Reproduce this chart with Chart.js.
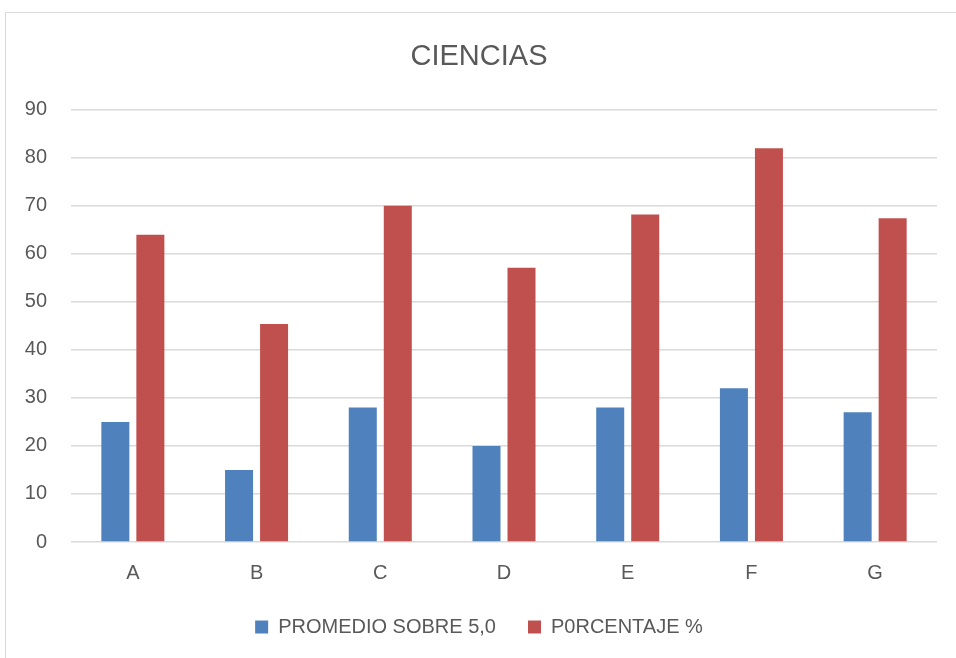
<!DOCTYPE html>
<html>
<head>
<meta charset="utf-8">
<script src="https://cdn.jsdelivr.net/npm/chart.js@4/dist/chart.umd.min.js"></script>
<style>
  html, body { margin: 0; padding: 0; background: #fff; }
  #wrap { position: relative; width: 956px; height: 658px; overflow: hidden; }
  #frame { position: absolute; left: 5px; top: 12px; width: 1000px; height: 700px;
           border-left: 1.5px solid #d9d9d9; border-top: 1.5px solid #d9d9d9; }
  canvas { position: absolute; left: 0; top: 0; }
</style>
</head>
<body>
<div id="wrap">
  <div id="frame"></div>
  <canvas id="chart" width="956" height="658"></canvas>
</div>
<script>
// categories and values
var categories = ['A', 'B', 'C', 'D', 'E', 'F', 'G'];
var promedio = [25, 15, 28, 20, 28, 32, 27];
var porcentaje = [64, 45.4, 70, 57.1, 68.2, 82, 67.4];
var yTicks = [0, 10, 20, 30, 40, 50, 60, 70, 80, 90];

var textColor = '#595959';
var gridColor = '#d9d9d9';
var font = 'Liberation Sans, Arial, sans-serif';

var ctx = document.getElementById('chart').getContext('2d');
var chartObj = new Chart(ctx, {
  type: 'bar',
  data: {
    labels: categories,
    datasets: [
      {
        label: 'PROMEDIO SOBRE 5,0',
        data: promedio,
        backgroundColor: '#4f81bd',
        categoryPercentage: 0.566,
        barPercentage: 0.8
      },
      {
        label: 'P0RCENTAJE %',
        data: porcentaje,
        backgroundColor: '#c0504d',
        categoryPercentage: 0.566,
        barPercentage: 0.8
      }
    ]
  },
  options: {
    responsive: false,
    animation: false,
    layout: { padding: { left: 21, right: 19, top: 0, bottom: 11 } },
    plugins: {
      title: {
        display: true,
        text: 'CIENCIAS',
        color: textColor,
        font: { family: font, size: 29, weight: 'normal' },
        padding: { top: 40, bottom: 35 }
      },
      legend: {
        position: 'bottom',
        labels: {
          color: textColor,
          font: { family: font, size: 20 },
          boxWidth: 13,
          boxHeight: 13,
          padding: 32
        }
      },
      tooltip: { enabled: false }
    },
    scales: {
      x: {
        afterFit: function(scale) { scale.height = 43; },
        grid: { display: false, drawTicks: false },
        border: { display: false },
        ticks: { color: textColor, font: { family: font, size: 20 }, padding: 19 }
      },
      y: {
        min: 0,
        max: 90,
        afterBuildTicks: function(scale) {
          scale.ticks = yTicks.map(function(v) { return { value: v }; });
        },
        afterFit: function(scale) { scale.width = 50; },
        grid: { color: gridColor, lineWidth: 1.5, drawTicks: false },
        border: { display: false },
        ticks: { color: textColor, font: { family: font, size: 20 }, padding: 24 }
      }
    }
  }
});
</script>
</body>
</html>
